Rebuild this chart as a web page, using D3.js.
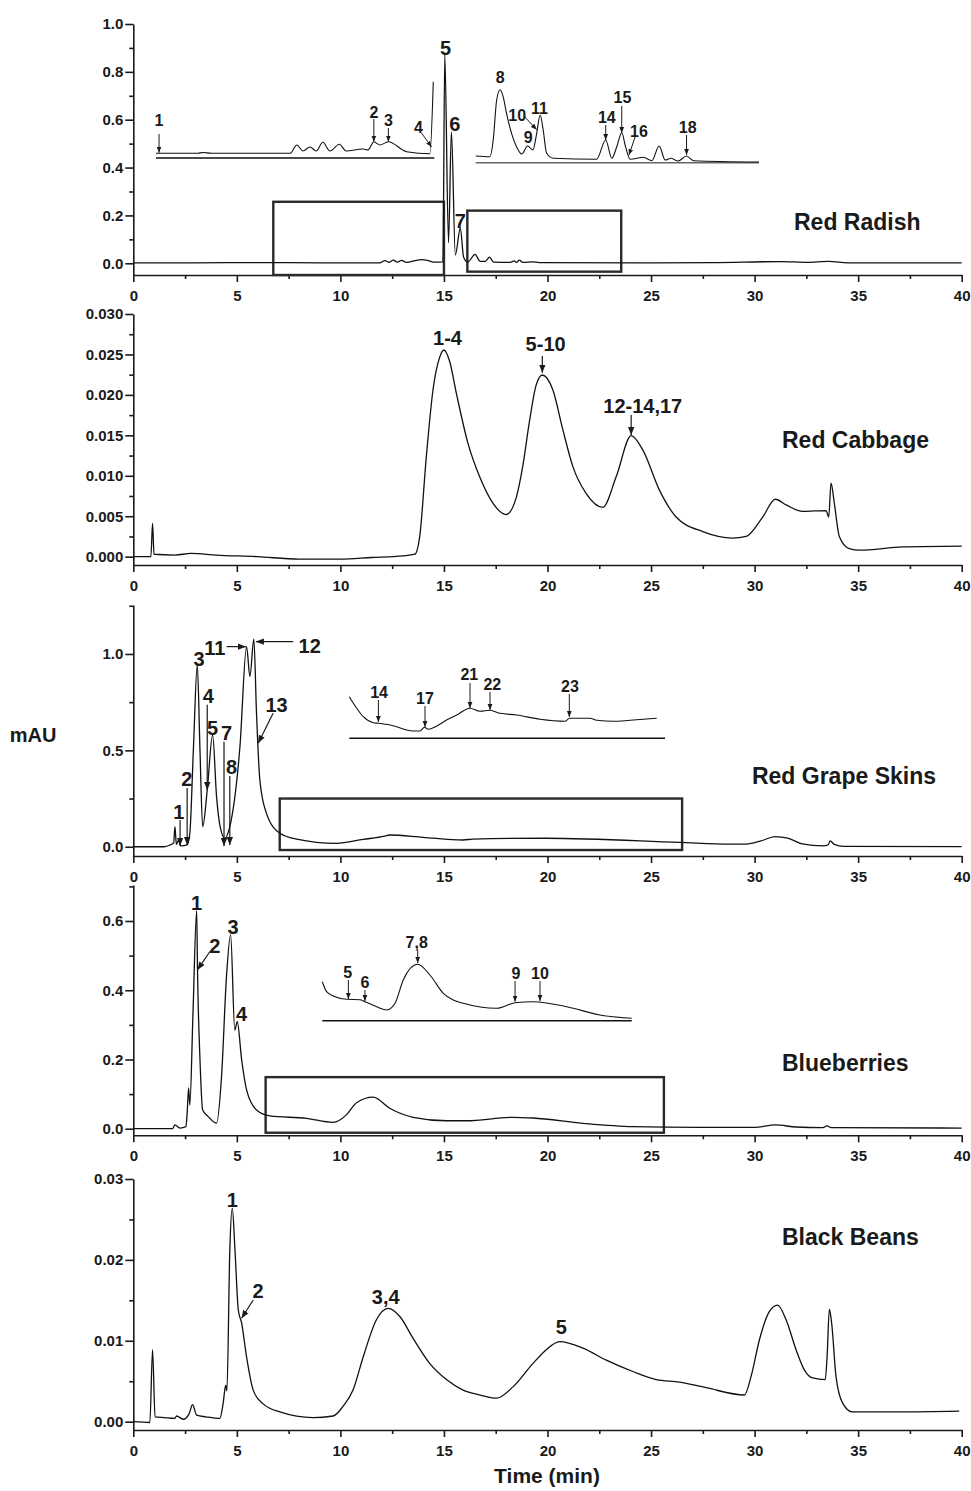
<!DOCTYPE html>
<html>
<head>
<meta charset="utf-8">
<script src="https://cdn.jsdelivr.net/npm/d3@7"></script>
<style>
  body { margin: 0; background: #fff; }
  text { font-family: "Liberation Sans", Arial, sans-serif; font-weight: bold; fill: #1a1a1a; }
  .tick text { font-size: 15px; }
  .axis path, .axis line { stroke: #1a1a1a; stroke-width: 1.6px; }
</style>
</head>
<body>
<script>

/*
  DATA
*/

// Time axis (min)
var xTicks = [0, 5, 10, 15, 20, 25, 30, 35, 40];
var xMinorTicks = [2.5, 7.5, 12.5, 17.5, 22.5, 27.5, 32.5, 37.5];

// One entry per sample, top to bottom
var sampleNames = ["Red Radish", "Red Cabbage", "Red Grape Skins", "Blueberries", "Black Beans"];
var yDomains = [[-0.049, 1.0], [-0.00103, 0.030], [-0.048, 1.254], [-0.019, 0.704], [-0.00103, 0.030]];
var yTicks = [
  [0, 0.2, 0.4, 0.6, 0.8, 1.0],
  [0, 0.005, 0.010, 0.015, 0.020, 0.025, 0.030],
  [0, 0.5, 1.0],
  [0, 0.2, 0.4, 0.6],
  [0, 0.01, 0.02, 0.03]
];
var yMinorTicks = [
  [0.1, 0.3, 0.5, 0.7, 0.9],
  [0.0025, 0.0075, 0.0125, 0.0175, 0.0225, 0.0275],
  [0.25, 0.75, 1.25],
  [0.1, 0.3, 0.5, 0.7],
  [0.005, 0.015, 0.025]
];
var yFormats = [".1f", ".3f", ".1f", ".1f", ".2f"];

// Chromatograms [time, mAU]
var radishTrace = [[0,0.002],[3,0.002],[6,0.003],[9,0.002],[11.9,0.002],[12.15,0.011],[12.35,0.004],[12.55,0.013],[12.75,0.005],[12.95,0.012],[13.2,0.004],[13.6,0.011],[13.9,0.015],[14.2,0.012],[14.5,0.005],[14.95,0.006],[15.04,0.875],[15.22,0.086],[15.36,0.55],[15.55,0.035],[15.79,0.147],[15.95,0.025],[16.15,0.005],[16.5,0.037],[16.75,0.008],[17.0,0.008],[17.2,0.026],[17.4,0.005],[18.2,0.004],[18.4,0.01],[18.5,0.004],[18.65,0.013],[18.8,0.004],[19.3,0.006],[19.6,0.003],[25,0.002],[28,0.003],[31.3,0.007],[32.5,0.004],[33.6,0.008],[34.5,0.002],[40,0.002]];

var cabbageTrace = [[0,0],[0.85,0],[0.93,0.0041],[1.0,0.0003],[2,0.0002],[2.8,0.0004],[4,0.0002],[6,0],[8,-0.0003],[10,-0.0003],[11.5,-0.0001],[13,0.0001],[13.6,0.0003],[13.83,0.0025],[14.15,0.0124],[14.47,0.0206],[14.8,0.0247],[15.0,0.02555],[15.28,0.0241],[15.6,0.0202],[16.16,0.014],[16.72,0.0099],[17.37,0.0066],[18.0,0.0052],[18.5,0.0074],[18.8,0.0111],[19.14,0.0169],[19.45,0.0212],[19.75,0.02246],[20.26,0.0206],[20.74,0.0157],[21.23,0.0111],[21.87,0.0078],[22.67,0.0061],[23.32,0.0099],[24.04,0.01496],[24.6,0.0132],[25.41,0.0082],[26.21,0.0049],[27.5,0.0031],[28.94,0.0023],[29.59,0.0025],[30.39,0.0049],[31.0,0.0071],[31.52,0.0064],[32.32,0.0056],[33.45,0.0057],[33.58,0.0049],[33.69,0.0091],[33.85,0.0066],[34.09,0.0025],[34.57,0.001],[35.06,0.0008],[37.15,0.0012],[40,0.0013]];

var grapeTrace = [[0,0],[1.5,0],[1.77,0.009],[1.95,0.02],[2.01,0.104],[2.08,0.012],[2.19,0.035],[2.28,0.005],[2.6,0.01],[2.73,0.07],[2.9,0.5],[3.09,0.943],[3.22,0.5],[3.35,0.104],[3.57,0.294],[3.83,0.58],[4.02,0.26],[4.2,0.1],[4.42,0.044],[4.66,0.104],[5.15,0.52],[5.47,1.038],[5.63,0.883],[5.82,1.077],[5.95,0.69],[6.11,0.346],[6.43,0.173],[7.08,0.07],[7.88,0.04],[9.81,0.018],[11.1,0.038],[12.14,0.055],[12.38,0.061],[13.99,0.049],[15.92,0.035],[16.4,0.04],[19.94,0.044],[26.37,0.023],[28.78,0.014],[29.6,0.014],[30.3,0.03],[31.0,0.053],[31.6,0.045],[32.3,0.015],[33.3,0.005],[33.55,0.01],[33.65,0.03],[33.85,0.012],[34.3,0.002],[40,0.001]];

var blueberryTrace = [[0,0],[1.9,0],[2.01,0.011],[2.25,0.002],[2.54,0.006],[2.6,0.045],[2.67,0.118],[2.73,0.068],[2.88,0.33],[3.06,0.63],[3.1,0.459],[3.22,0.2],[3.35,0.054],[3.62,0.035],[4.02,0.016],[4.26,0.15],[4.5,0.44],[4.7,0.56],[4.9,0.285],[5.02,0.309],[5.23,0.2],[5.47,0.112],[5.95,0.054],[6.59,0.037],[8.36,0.03],[9.65,0.0185],[10.29,0.04],[10.78,0.075],[11.58,0.091],[12.38,0.059],[13.51,0.033],[15.12,0.023],[16.08,0.023],[18.33,0.033],[19.3,0.031],[21.71,0.0156],[24.12,0.006],[27.34,0.004],[30,0.004],[31.0,0.011],[32,0.005],[33.3,0.003],[33.5,0.008],[33.7,0.003],[40,0.002]];

var beanTrace = [[0,0],[0.8,-0.0001],[0.93,0.0089],[1.05,0.0006],[1.5,0.0005],[2.0,0.0004],[2.09,0.0007],[2.41,0.0003],[2.7,0.001],[2.86,0.0021],[3.06,0.0008],[3.5,0.0006],[4.18,0.0004],[4.34,0.0023],[4.46,0.0045],[4.52,0.0038],[4.66,0.0212],[4.78,0.0264],[4.91,0.0212],[5.07,0.0138],[5.23,0.0122],[5.47,0.008],[5.79,0.0039],[6.27,0.0022],[7.08,0.0012],[8.68,0.0005],[9.65,0.0007],[10.13,0.0019],[10.61,0.0039],[11.1,0.008],[11.74,0.0126],[12.3,0.014],[12.87,0.013],[13.51,0.0103],[14.31,0.0072],[15.12,0.0052],[15.92,0.0039],[16.72,0.0033],[17.53,0.0029],[18.33,0.0043],[19.3,0.0072],[19.94,0.0089],[20.58,0.0099],[21.71,0.0091],[22.84,0.0076],[24.12,0.0062],[25.25,0.0052],[26.37,0.0049],[27.66,0.0042],[29.51,0.0033],[29.83,0.0056],[30.23,0.0101],[30.71,0.0136],[31.11,0.0144],[31.52,0.0126],[32.0,0.0089],[32.4,0.0064],[32.8,0.0054],[33.41,0.0052],[33.5,0.008],[33.61,0.0139],[33.72,0.0122],[33.93,0.0056],[34.25,0.0023],[34.73,0.0012],[36.98,0.0012],[39.88,0.0013]];

// Zoomed regions [t0, t1, v0, v1]
var radishBoxes = [[6.76, 15.0, -0.049, 0.257], [16.13, 23.56, -0.035, 0.22]];
var grapeBoxes = [[7.07, 26.5, -0.017, 0.25]];
var blueberryBoxes = [[6.39, 25.62, -0.0116, 0.149]];

// Expanded views of the boxes [time, relative absorbance]
var radishInsetLeft = [[6.76,0.047],[8.0,0.047],[8.15,0.055],[8.4,0.047],[10.73,0.047],[10.93,0.13],[11.11,0.07],[11.32,0.11],[11.5,0.07],[11.7,0.157],[11.91,0.07],[12.19,0.137],[12.39,0.07],[12.89,0.09],[13.04,0.08],[13.21,0.163],[13.39,0.13],[13.64,0.163],[14.18,0.063],[14.87,0.043],[14.97,0.763]];
var radishInsetRight = [[16.13,0.067],[16.5,0.06],[16.59,0.227],[16.68,0.627],[16.77,0.73],[16.85,0.66],[16.94,0.49],[17.07,0.294],[17.2,0.16],[17.34,0.087],[17.49,0.167],[17.63,0.127],[17.73,0.294],[17.82,0.477],[17.9,0.327],[17.99,0.094],[18.17,0.044],[19.3,0.034],[19.54,0.227],[19.7,0.044],[19.83,0.16],[19.96,0.3],[20.06,0.16],[20.18,0.034],[20.53,0.054],[20.75,0.02],[20.94,0.167],[21.1,0.027],[21.25,0.044],[21.44,0.017],[21.66,0.067],[21.84,0.02],[23.56,0.007]];
var grapeInset = [[7.07,0.416],[7.53,0.30],[7.93,0.216],[8.55,0.156],[8.86,0.15],[9.58,0.133],[11.01,0.073],[11.42,0.073],[11.69,0.11],[11.93,0.09],[12.45,0.123],[13.06,0.183],[13.68,0.233],[14.5,0.30],[15.11,0.27],[15.73,0.28],[16.35,0.25],[17.37,0.233],[18.81,0.19],[20.35,0.17],[20.61,0.2],[21.88,0.2],[22.3,0.18],[23.32,0.17],[24.35,0.18],[25.99,0.2]];
var blueberryInset = [[6.39,0.39],[6.66,0.29],[7.07,0.247],[7.91,0.214],[8.73,0.21],[9.04,0.19],[9.77,0.14],[10.39,0.107],[10.91,0.174],[11.42,0.407],[12.32,0.564],[13.08,0.457],[13.91,0.274],[14.53,0.207],[15.15,0.174],[17.23,0.124],[18.37,0.18],[19.5,0.19],[21.58,0.14],[23.65,0.057],[25.62,0.024]];

// Peak labels [text, time, mAU] and arrows [t1, v1, t2, v2]
var radishLabels = [["5",15.08,0.87],["6",15.52,0.553],["7",15.79,0.147]];
var radishArrows = [];
var cabbageLabels = [["1-4",15.17,0.02617],["5-10",19.91,0.02546],["12-14,17",24.6,0.0178]];
var cabbageArrows = [[19.75,0.0248,19.75,0.02274],[24.04,0.0175,24.04,0.01504]];
var grapeLabels = [["1",2.2,0.142],["2",2.58,0.315],["3",3.17,0.935],["4",3.62,0.748],["5",3.83,0.58],["7",4.5,0.554],["8",4.75,0.377],["11",3.94,0.995],["12",8.52,1.007],["13",6.92,0.701]];
var grapeArrows = [[2.26,0.139,2.26,0.005],[2.6,0.305,2.6,0.009],[3.57,0.736,3.57,0.294],[4.38,0.544,4.38,0.004],[4.66,0.367,4.66,0.009],[4.5,1.038,5.44,1.038],[7.72,1.064,5.92,1.064],[6.75,0.693,6.03,0.537]];
var blueberryLabels = [["1",3.06,0.632],["2",3.94,0.507],["3",4.82,0.563],["4",5.23,0.311]];
var blueberryArrows = [[3.7,0.512,3.1,0.459]];
var beanLabels = [["1",4.78,0.02657],["2",6.03,0.01525],["3,4",12.19,0.01455],["5",20.67,0.0108]];
var beanArrows = [[5.79,0.01504,5.23,0.01278]];

// Inset labels, same units as the inset data
var radishInsetLeftLabels = [["1",6.85,0.323],["2",13.21,0.40],["3",13.64,0.323],["4",14.53,0.253]];
var radishInsetLeftArrows = [[6.85,0.24,6.85,0.053],[13.21,0.39,13.21,0.163],[13.64,0.30,13.64,0.163],[14.62,0.25,14.92,0.11]];
var radishInsetRightLabels = [["8",16.77,0.80],["10",17.22,0.42],["9",17.51,0.197],["11",17.8,0.487],["14",19.57,0.394],["15",19.98,0.594],["16",20.41,0.26],["18",21.69,0.294]];
var radishInsetRightArrows = [[17.42,0.457,17.73,0.33],[19.54,0.377,19.54,0.227],[19.96,0.567,19.96,0.297],[20.31,0.257,20.15,0.077],[21.66,0.277,21.66,0.077]];
var grapeInsetLabels = [["14",8.9,0.40],["17",11.73,0.343],["21",14.46,0.583],["22",15.87,0.483],["23",20.65,0.466]];
var grapeInsetArrows = [[8.86,0.383,8.86,0.163],[11.73,0.323,11.73,0.113],[14.5,0.553,14.5,0.303],[15.73,0.463,15.73,0.283],[20.61,0.443,20.61,0.213]];
var blueberryInsetLabels = [["5",7.97,0.424],["6",9.04,0.324],["7,8",12.26,0.724],["9",18.43,0.417],["10",19.92,0.417]];
var blueberryInsetArrows = [[8.01,0.407,8.01,0.217],[9.04,0.307,9.04,0.197],[12.32,0.707,12.32,0.577],[18.37,0.397,18.37,0.19],[19.92,0.397,19.92,0.197]];

/*
  LAYOUT
*/

var width = 971, height = 1491;

// y pixel range (bottom, top) of each panel
var panelRange = [[275, 24], [565, 314], [856, 605], [1135.3, 885], [1430, 1179]];
// sample name placement [x, baseline, anchor]
var nameSpot = [[794, 230, "start"], [782, 448, "start"], [936, 784, "end"], [782, 1071, "start"], [782, 1245, "start"]];

var panels = [
  {trace: radishTrace, labels: radishLabels, arrows: radishArrows, boxes: radishBoxes},
  {trace: cabbageTrace, labels: cabbageLabels, arrows: cabbageArrows, boxes: []},
  {trace: grapeTrace, labels: grapeLabels, arrows: grapeArrows, boxes: grapeBoxes},
  {trace: blueberryTrace, labels: blueberryLabels, arrows: blueberryArrows, boxes: blueberryBoxes},
  {trace: beanTrace, labels: beanLabels, arrows: beanArrows, boxes: []}
];

// insets: pixel span of their baseline, box they expand
var insets = [
  {panel: 0, box: radishBoxes[0], x0: 156, x1: 434.3, base: 158, color: "#111", data: radishInsetLeft, labels: radishInsetLeftLabels, arrows: radishInsetLeftArrows},
  {panel: 0, box: radishBoxes[1], x0: 475.7, x1: 759, base: 162.7, color: "#666", data: radishInsetRight, labels: radishInsetRightLabels, arrows: radishInsetRightArrows},
  {panel: 2, box: grapeBoxes[0], x0: 349.3, x1: 665, base: 738.3, color: "#111", data: grapeInset, labels: grapeInsetLabels, arrows: grapeInsetArrows},
  {panel: 3, box: blueberryBoxes[0], x0: 322.3, x1: 631.7, base: 1020.7, color: "#111", data: blueberryInset, labels: blueberryInsetLabels, arrows: blueberryInsetArrows}
];

var svg = d3.select("body").append("svg")
    .attr("width", width)
    .attr("height", height);

var defs = svg.append("defs");
[["headBig", 8], ["headSmall", 6]].forEach(function(m) {
  defs.append("marker")
      .attr("id", m[0])
      .attr("viewBox", "0 0 10 10")
      .attr("refX", 10)
      .attr("refY", 5)
      .attr("markerWidth", m[1])
      .attr("markerHeight", m[1])
      .attr("markerUnits", "userSpaceOnUse")
      .attr("orient", "auto")
    .append("path")
      .attr("d", "M0,1L10,5L0,9Z")
      .attr("fill", "#1a1a1a");
});

var x = d3.scaleLinear().domain([0, 40]).range([133.3, 961.7]);

function drawArrows(g, arrows, sx, sy, head, w) {
  g.selectAll(null).data(arrows).enter().append("line")
      .attr("x1", function(d) { return sx(d[0]); })
      .attr("y1", function(d) { return sy(d[1]); })
      .attr("x2", function(d) { return sx(d[2]); })
      .attr("y2", function(d) { return sy(d[3]); })
      .attr("stroke", "#1a1a1a")
      .attr("stroke-width", w)
      .attr("marker-end", "url(#" + head + ")");
}

function drawLabels(g, labels, sx, sy, size) {
  g.selectAll(null).data(labels).enter().append("text")
      .attr("x", function(d) { return sx(d[1]); })
      .attr("y", function(d) { return sy(d[2]); })
      .attr("text-anchor", "middle")
      .style("font-size", size + "px")
      .text(function(d) { return d[0]; });
}

panels.forEach(function(p, i) {
  var r = panelRange[i];
  var y = d3.scaleLinear().domain(yDomains[i]).range(r);
  var g = svg.append("g");

  // axes
  var xa = g.append("g").attr("class", "axis").attr("transform", "translate(0," + r[0] + ")")
      .call(d3.axisBottom(x).tickValues(xTicks).tickSize(7).tickSizeOuter(0).tickPadding(8).tickFormat(d3.format("d")));
  var xm = g.append("g").attr("class", "axis").attr("transform", "translate(0," + r[0] + ")")
      .call(d3.axisBottom(x).tickValues(xMinorTicks).tickSize(4).tickFormat(""));
  xm.select(".domain").remove();

  var ya = g.append("g").attr("class", "axis").attr("transform", "translate(" + x(0) + ",0)")
      .call(d3.axisLeft(y).tickValues(yTicks[i]).tickSize(8).tickSizeOuter(0).tickPadding(2).tickFormat(d3.format(yFormats[i])));
  var ym = g.append("g").attr("class", "axis").attr("transform", "translate(" + x(0) + ",0)")
      .call(d3.axisLeft(y).tickValues(yMinorTicks[i]).tickSize(4).tickFormat(""));
  ym.select(".domain").remove();
  [xa, xm, ya, ym].forEach(function(a) { a.attr("font-size", null).attr("font-family", null); });

  // zoom boxes
  g.selectAll(null).data(p.boxes).enter().append("rect")
      .attr("x", function(d) { return x(d[0]); })
      .attr("y", function(d) { return y(d[3]); })
      .attr("width", function(d) { return x(d[1]) - x(d[0]); })
      .attr("height", function(d) { return y(d[2]) - y(d[3]); })
      .attr("fill", "none")
      .attr("stroke", "#2a2a2a")
      .attr("stroke-width", 2.4);

  // chromatogram
  var line = d3.line()
      .x(function(d) { return x(d[0]); })
      .y(function(d) { return y(d[1]); })
      .curve(d3.curveMonotoneX);
  g.append("path")
      .datum(p.trace)
      .attr("d", line)
      .attr("fill", "none")
      .attr("stroke", "#111")
      .attr("stroke-width", 1.3);

  drawArrows(g, p.arrows, x, y, "headBig", 1.2);
  drawLabels(g, p.labels, x, y, 20);

  g.append("text")
      .attr("x", nameSpot[i][0])
      .attr("y", nameSpot[i][1])
      .attr("text-anchor", nameSpot[i][2])
      .style("font-size", "23px")
      .text(sampleNames[i]);
});

// Insets
insets.forEach(function(s) {
  var sx = d3.scaleLinear().domain([s.box[0], s.box[1]]).range([s.x0, s.x1]);
  var sy = d3.scaleLinear().domain([0, 1]).range([s.base, s.base - 100]);
  var g = svg.append("g");

  g.append("line")
      .attr("x1", s.x0).attr("x2", s.x1)
      .attr("y1", sy(0)).attr("y2", sy(0))
      .attr("stroke", s.color)
      .attr("stroke-width", 1.4);

  g.append("path")
      .datum(s.data)
      .attr("d", d3.line()
        .x(function(d) { return sx(d[0]); })
        .y(function(d) { return sy(d[1]); })
        .curve(d3.curveMonotoneX))
      .attr("fill", "none")
      .attr("stroke", "#111")
      .attr("stroke-width", 1.1);

  drawArrows(g, s.arrows, sx, sy, "headSmall", 1);
  drawLabels(g, s.labels, sx, sy, 16);
});

// Axis titles
svg.append("text")
    .attr("x", 33)
    .attr("y", 742)
    .attr("text-anchor", "middle")
    .style("font-size", "20px")
    .text("mAU");

svg.append("text")
    .attr("x", 547)
    .attr("y", 1483)
    .attr("text-anchor", "middle")
    .style("font-size", "21px")
    .text("Time (min)");

</script>
</body>
</html>
